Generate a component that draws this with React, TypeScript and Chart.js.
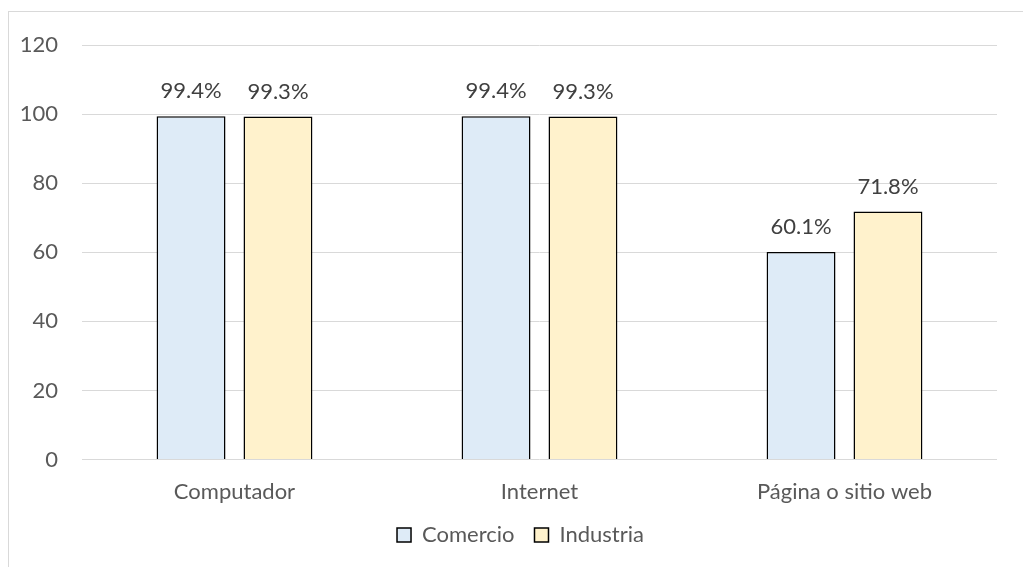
import React, { useEffect, useRef } from "react";
import { Chart, registerables } from "chart.js";

Chart.register(...registerables);

const categories = ["Computador", "Internet", "Página o sitio web"];
const comercio = [99.4, 99.4, 60.1];
const industria = [99.3, 99.3, 71.8];
const seriesNames = ["Comercio", "Industria"];

const FONT = "Lato, 'Open Sans', sans-serif";
const FS = 22;

const dataLabelPlugin = {
  id: "dataLabels",
  afterDatasetsDraw(chart: any) {
    const ctx = chart.ctx;
    ctx.save();
    ctx.font = `${FS}px ${FONT}`;
    ctx.fillStyle = "#404040";
    ctx.textAlign = "center";
    ctx.textBaseline = "middle";
    chart.data.datasets.forEach((ds: any, i: number) => {
      const meta = chart.getDatasetMeta(i);
      meta.data.forEach((bar: any, j: number) => {
        const v = ds.data[j];
        ctx.fillText(v.toFixed(1) + "%", bar.x, bar.y - 25);
      });
    });
    ctx.restore();
  },
};

export default function App() {
  const ref = useRef<HTMLCanvasElement>(null);
  useEffect(() => {
    if (!ref.current) return;
    const chart = new Chart(ref.current, {
      type: "bar",
      data: {
        labels: categories,
        datasets: [
          {
            label: seriesNames[0],
            data: comercio,
            backgroundColor: "#DEEBF7",
            borderColor: "#000000",
            borderWidth: 1.5,
          },
          {
            label: seriesNames[1],
            data: industria,
            backgroundColor: "#FFF2CC",
            borderColor: "#000000",
            borderWidth: 1.5,
          },
        ],
      },
      options: {
        responsive: false,
        animation: false,
        datasets: {
          bar: { categoryPercentage: 0.57, barPercentage: 0.793 },
        },
        layout: { padding: { top: 45, left: 18, right: 0, bottom: 11 } },
        plugins: {
          tooltip: { enabled: false },
          legend: {
            position: "bottom",
            labels: {
              font: { family: FONT, size: FS },
              color: "#595959",
              boxWidth: 14,
              boxHeight: 14,
              padding: 20,
            },
          },
        },
        scales: {
          x: {
            grid: { display: false },
            border: { display: false },
            ticks: {
              font: { family: FONT, size: FS },
              color: "#595959",
              padding: 11,
            },
            afterFit: (s: any) => {
              s.height = 44.5;
            },
          },
          y: {
            min: 0,
            max: 120,
            ticks: {
              stepSize: 20,
              font: { family: FONT, size: FS },
              color: "#595959",
              padding: 24,
            },
            grid: { color: "#d9d9d9", lineWidth: 1, drawTicks: false },
            border: { display: false },
            afterFit: (s: any) => {
              s.width = 64;
            },
          },
          yRight: {
            position: "right",
            display: true,
            min: 0,
            max: 120,
            grid: { display: false, drawTicks: false },
            ticks: { display: false },
            border: { display: false },
            afterFit: (s: any) => {
              s.width = 26;
            },
          },
        },
      },
      plugins: [dataLabelPlugin],
    });
    return () => chart.destroy();
  }, []);

  return (
    <div
      style={{
        position: "absolute",
        left: 0,
        top: 0,
        width: 1023,
        height: 567,
        overflow: "hidden",
        background: "#ffffff",
      }}
    >
      <div
        style={{
          position: "absolute",
          left: 8,
          top: 11,
          width: 1100,
          height: 600,
          border: "1px solid #d9d9d9",
        }}
      />
      <canvas
        ref={ref}
        width={1023}
        height={567}
        style={{ position: "absolute", left: 0, top: 0, display: "block" }}
      />
    </div>
  );
}
